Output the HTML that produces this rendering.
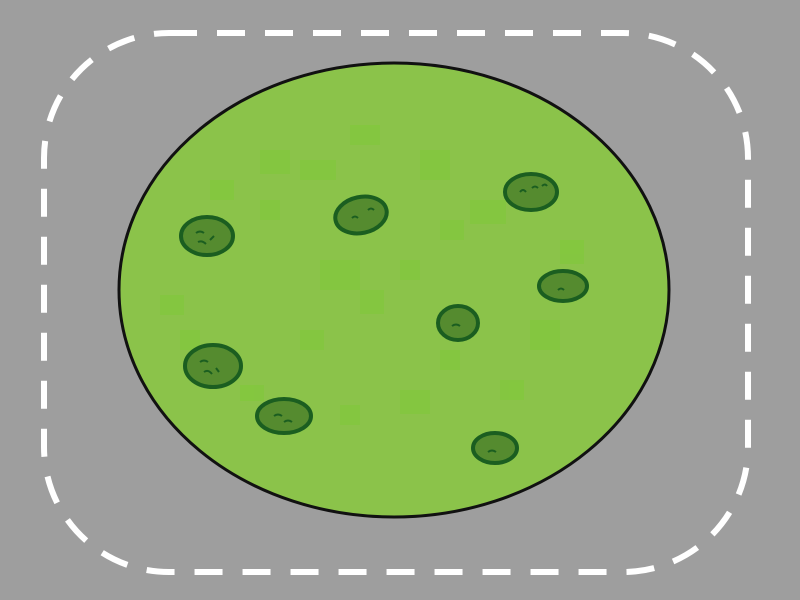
<!DOCTYPE html>
<html><head><meta charset="utf-8"><style>
html,body{margin:0;padding:0;background:#9e9e9e;}
svg{display:block;}
</style></head><body>
<svg width="800" height="600" viewBox="0 0 800 600">
<rect x="0" y="0" width="800" height="600" fill="#9e9e9e"/>
<rect x="44" y="33" width="704" height="539" rx="125" ry="125" fill="none" stroke="#ffffff" stroke-width="6" stroke-dasharray="28 20"/>
<ellipse cx="394" cy="290" rx="275" ry="227" fill="#8bc34a" stroke="#111" stroke-width="3"/>
<g fill="#7ccb34" opacity="0.45">
<rect x="260" y="150" width="30" height="24"/><rect x="300" y="160" width="36" height="20"/><rect x="350" y="125" width="30" height="20"/>
<rect x="420" y="150" width="30" height="30"/><rect x="470" y="200" width="36" height="24"/><rect x="440" y="220" width="24" height="20"/>
<rect x="210" y="180" width="24" height="20"/><rect x="320" y="260" width="40" height="30"/><rect x="360" y="290" width="24" height="24"/>
<rect x="160" y="295" width="24" height="20"/><rect x="530" y="320" width="30" height="30"/><rect x="400" y="390" width="30" height="24"/>
<rect x="240" y="385" width="24" height="16"/><rect x="340" y="405" width="20" height="20"/><rect x="560" y="240" width="24" height="24"/>
<rect x="260" y="200" width="20" height="20"/><rect x="400" y="260" width="20" height="20"/><rect x="500" y="380" width="24" height="20"/>
<rect x="180" y="330" width="20" height="20"/><rect x="440" y="350" width="20" height="20"/><rect x="300" y="330" width="24" height="20"/>
</g>
<g fill="#558b2f" stroke="#1b5e20" stroke-width="4">
<ellipse cx="207" cy="236" rx="26" ry="19"/>
<ellipse cx="361" cy="215" rx="26" ry="18" transform="rotate(-12 361 215)"/>
<ellipse cx="531" cy="192" rx="26" ry="18"/>
<ellipse cx="563" cy="286" rx="24" ry="15"/>
<ellipse cx="458" cy="323" rx="20" ry="17"/>
<ellipse cx="213" cy="366" rx="28" ry="21"/>
<ellipse cx="284" cy="416" rx="27" ry="17"/>
<ellipse cx="495" cy="448" rx="22" ry="15"/>
</g>
<g fill="none" stroke="#1b5e20" stroke-width="2">
<path d="M196 233q4-3 8 0M198 242q4-2 8 2M210 240l4-4"/>
<path d="M352 218q3-3 6 0M368 210q3-3 6 0"/>
<path d="M520 192q3-4 6 0M532 188q3-3 6 0M542 186q3-3 5 0"/>
<path d="M558 290q3-3 6 0"/>
<path d="M452 326q4-3 8 0"/>
<path d="M200 362q4-3 8 0M204 372q4-3 8 2M216 368l3 4"/>
<path d="M274 416q4-3 8 0M284 422q4-3 8 0"/>
<path d="M488 452q4-3 8 0"/>
</g>
</svg>
</body></html>
